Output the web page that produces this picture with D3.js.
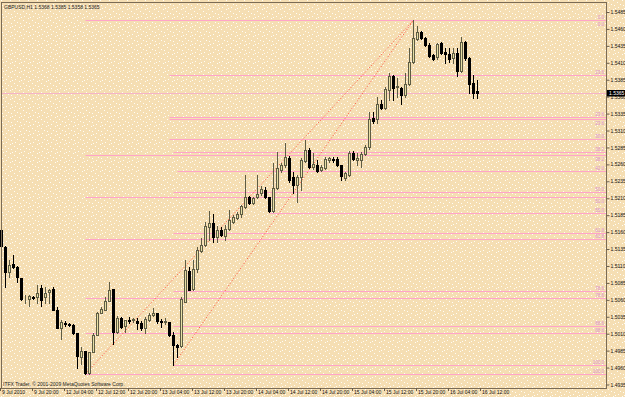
<!DOCTYPE html>
<html lang="en">
<head>
<meta charset="UTF-8">
<title>GBPUSD,H1</title>
<script src="https://d3js.org/d3.v7.min.js"></script>
<style>
  body { margin: 0; background: #F5DEB3; }
  svg { display: block; }
  text { font-family: "Liberation Sans", Arial, sans-serif; }
</style>
</head>
<body>
<div id="chart"></div>
<script>
// hourly candles, 9 Jul 2010 12:00 onward
const opens = [1.5163,1.5138,1.5101,1.5113,1.5108,1.5092,1.5063,1.5061,1.5064,1.5064,
  1.5078,1.5064,1.5072,1.5076,1.5045,1.5018,1.5026,1.5024,1.5023,1.5011,
  1.4976,1.4984,1.4952,1.4983,1.5008,1.5041,1.5045,1.5058,1.5076,1.5012,
  1.5033,1.5021,1.5030,1.5030,1.5029,1.5026,1.5018,1.5030,1.5037,1.5040,
  1.5029,1.5027,1.5027,1.5008,1.4993,1.4992,1.5057,1.5103,1.5076,1.5106,
  1.5132,1.5141,1.5167,1.5173,1.5153,1.5163,1.5154,1.5165,1.5175,1.5181,
  1.5187,1.5197,1.5212,1.5203,1.5212,1.5218,1.5222,1.5212,1.5191,1.5225,
  1.5251,1.5259,1.5269,1.5241,1.5229,1.5241,1.5265,1.5281,1.5256,1.5259,
  1.5251,1.5254,1.5266,1.5268,1.5268,1.5259,1.5240,1.5244,1.5277,1.5266,
  1.5266,1.5275,1.5286,1.5328,1.5327,1.5349,1.5343,1.5370,1.5390,1.5374,
  1.5373,1.5362,1.5378,1.5411,1.5445,1.5455,1.5447,1.5436,1.5421,1.5419,
  1.5439,1.5426,1.5423,1.5417,1.5424,1.5398,1.5441,1.5417,1.5380,1.5368];
const highs = [1.5178,1.5139,1.5119,1.5126,1.5110,1.5092,1.5067,1.5067,1.5066,1.5082,
  1.5082,1.5079,1.5076,1.5079,1.5049,1.5030,1.5029,1.5026,1.5024,1.5011,
  1.4990,1.4984,1.4983,1.5011,1.5042,1.5049,1.5064,1.5086,1.5076,1.5036,
  1.5035,1.5030,1.5035,1.5033,1.5033,1.5029,1.5035,1.5040,1.5048,1.5040,
  1.5032,1.5033,1.5027,1.5012,1.4995,1.5064,1.5119,1.5108,1.5119,1.5138,
  1.5151,1.5175,1.5191,1.5187,1.5169,1.5168,1.5170,1.5193,1.5185,1.5190,
  1.5200,1.5244,1.5213,1.5212,1.5244,1.5228,1.5227,1.5212,1.5262,1.5278,
  1.5262,1.5291,1.5272,1.5249,1.5244,1.5269,1.5296,1.5284,1.5277,1.5266,
  1.5259,1.5271,1.5271,1.5271,1.5271,1.5259,1.5249,1.5280,1.5280,1.5277,
  1.5278,1.5289,1.5337,1.5337,1.5359,1.5355,1.5374,1.5395,1.5392,1.5388,
  1.5374,1.5395,1.5432,1.5473,1.5465,1.5457,1.5448,1.5439,1.5423,1.5439,
  1.5440,1.5432,1.5432,1.5432,1.5432,1.5448,1.5442,1.5419,1.5392,1.5385];
const lows = [1.5137,1.5079,1.5094,1.5107,1.5086,1.5060,1.5055,1.5051,1.5061,1.5055,
  1.5051,1.5055,1.5055,1.5045,1.5018,1.5002,1.5021,1.5021,1.5010,1.4959,
  1.4965,1.4951,1.4951,1.4983,1.5008,1.5040,1.5045,1.5058,1.4995,1.5011,
  1.5018,1.5012,1.5026,1.5027,1.5017,1.5015,1.5011,1.5029,1.5036,1.5026,
  1.5020,1.5024,1.5006,1.4964,1.4976,1.4990,1.5057,1.5075,1.5075,1.5101,
  1.5131,1.5140,1.5148,1.5145,1.5145,1.5154,1.5148,1.5163,1.5173,1.5179,
  1.5182,1.5196,1.5201,1.5201,1.5210,1.5215,1.5210,1.5190,1.5190,1.5224,
  1.5249,1.5256,1.5234,1.5218,1.5204,1.5222,1.5263,1.5254,1.5253,1.5249,
  1.5250,1.5253,1.5263,1.5263,1.5257,1.5237,1.5237,1.5243,1.5266,1.5259,
  1.5256,1.5274,1.5283,1.5321,1.5321,1.5342,1.5342,1.5355,1.5355,1.5359,
  1.5349,1.5359,1.5377,1.5409,1.5444,1.5445,1.5435,1.5419,1.5414,1.5416,
  1.5423,1.5409,1.5411,1.5409,1.5390,1.5396,1.5414,1.5365,1.5358,1.5358];
const closes = [1.5140,1.5101,1.5111,1.5108,1.5094,1.5061,1.5063,1.5066,1.5063,1.5070,
  1.5060,1.5070,1.5075,1.5045,1.5018,1.5027,1.5024,1.5023,1.5011,1.4977,
  1.4984,1.4952,1.4983,1.5008,1.5041,1.5047,1.5058,1.5075,1.5012,1.5033,
  1.5020,1.5030,1.5029,1.5031,1.5026,1.5018,1.5032,1.5037,1.5040,1.5029,
  1.5027,1.5029,1.5008,1.4993,1.4990,1.5061,1.5104,1.5075,1.5106,1.5134,
  1.5141,1.5169,1.5173,1.5153,1.5163,1.5156,1.5165,1.5178,1.5182,1.5187,
  1.5198,1.5212,1.5203,1.5210,1.5216,1.5224,1.5212,1.5191,1.5225,1.5254,
  1.5259,1.5271,1.5237,1.5229,1.5241,1.5266,1.5281,1.5256,1.5260,1.5250,
  1.5256,1.5268,1.5269,1.5267,1.5259,1.5243,1.5247,1.5277,1.5268,1.5269,
  1.5275,1.5286,1.5327,1.5324,1.5349,1.5343,1.5371,1.5390,1.5373,1.5375,
  1.5362,1.5378,1.5411,1.5446,1.5456,1.5447,1.5436,1.5420,1.5416,1.5438,
  1.5424,1.5423,1.5416,1.5424,1.5398,1.5441,1.5417,1.5379,1.5366,1.5365];

const priceTicks = [1.5485,1.5460,1.5435,1.5410,1.5385,1.5360,1.5335,1.5310,1.5285,1.5260,
  1.5235,1.5210,1.5185,1.5160,1.5135,1.5110,1.5085,1.5060,1.5035,1.5010,1.4985,1.4960,1.4935];
const timeLabels = ["9 Jul 2010","9 Jul 20:00","12 Jul 04:00","12 Jul 12:00","12 Jul 20:00",
  "13 Jul 04:00","13 Jul 12:00","13 Jul 20:00","14 Jul 04:00","14 Jul 12:00","14 Jul 20:00",
  "15 Jul 04:00","15 Jul 12:00","15 Jul 20:00","16 Jul 04:00","16 Jul 12:00"];
const timeLabelBars = [0,8,16,24,32,40,48,56,64,72,80,88,96,104,112,120];

// two fibonacci retracements, both up to the 15 Jul high
const fibLevels = [0, 38.2, 50, 61.8, 78.6, 88.6, 100];
const fibStartBars = [21, 43];
const fibLows = [1.4951, 1.4964];
const fibHighBar = 103;
const fibHigh = 1.5473;

// other horizontal levels
const extraLevels = [1.5392, 1.5330, 1.5327, 1.5297, 1.5250, 1.5188];
const extraStartBars = [42, 42, 42, 42, 44, 67];
const extraLabels = ["23.6", "23.6", "23.6", "30.0", "42.0", "55.0"];

const header = "GBPUSD,H1  1.5368 1.5385 1.5358 1.5365";
const footer = "ITFX Trader, \u00A9 2001-2009 MetaQuotes Software Corp.";
const bid = 1.5365;

const W = 625, H = 397;
const plotL = 1.5, plotT = 2.5, plotR = 606.5, plotB = 388;

const svg = d3.select("#chart").append("svg")
  .attr("width", W).attr("height", H);

// dotted paper background
const pat = svg.append("defs").append("pattern")
  .attr("id", "dots").attr("width", 9).attr("height", 9)
  .attr("patternUnits", "userSpaceOnUse");
pat.append("rect").attr("width", 9).attr("height", 9).attr("fill", "#F5DEB3");
[[1,0],[5,2],[8,4],[2,5],[6,7],[3,8]].forEach(p => {
  pat.append("rect").attr("x", p[0]).attr("y", p[1]).attr("width", 1).attr("height", 1)
    .attr("fill", "#FFFDF5");
});
svg.append("rect").attr("width", W).attr("height", H).attr("fill", "url(#dots)");

const x = d3.scaleLinear().domain([0, 119]).range([1.5, 477.5]);
const y = d3.scaleLinear().domain([1.4935, 1.5485]).range([384.5, 12]);
const ry = v => Math.round(y(v)) + 0.5;

// horizontal level lines
const levels = [];
fibStartBars.forEach((s, k) => {
  fibLevels.forEach(l => {
    levels.push({ start: s, price: fibHigh - (fibHigh - fibLows[k]) * l / 100, label: l.toFixed(1) });
  });
});
extraLevels.forEach((p, k) => levels.push({ start: extraStartBars[k], price: p, label: extraLabels[k] }));

// stack labels of close lines: the lower one goes under its line
levels.sort((a, b) => b.price - a.price);
let lastY = -100;
levels.forEach(d => {
  const ly = ry(d.price);
  d.ty = (ly - lastY < 6) ? ly + 5 : ly - 1.5;
  lastY = ly;
});

svg.append("line")
  .attr("x1", plotL).attr("x2", plotR).attr("y1", ry(bid)).attr("y2", ry(bid))
  .attr("stroke", "#F4B4C6").attr("stroke-width", 1);

svg.selectAll(".lvl").data(levels).enter().append("line")
  .attr("class", "lvl")
  .attr("x1", d => x(d.start)).attr("x2", plotR)
  .attr("y1", d => ry(d.price)).attr("y2", d => ry(d.price))
  .attr("stroke", "#FFA4C8").attr("stroke-width", 1);

svg.selectAll(".lvlText").data(levels).enter().append("text")
  .attr("class", "lvlText")
  .attr("x", 604).attr("y", d => d.ty)
  .attr("text-anchor", "end")
  .attr("font-size", "4.5px")
  .attr("fill", "#DC90D0")
  .text(d => d.label);

// fib trend lines
svg.selectAll(".trend").data(fibStartBars).enter().append("line")
  .attr("class", "trend")
  .attr("x1", d => x(d)).attr("y1", (d, k) => y(fibLows[k]))
  .attr("x2", x(fibHighBar)).attr("y2", y(fibHigh))
  .attr("stroke", "#FF4A3A").attr("stroke-width", 1)
  .attr("stroke-dasharray", "1,2");

// candles
const bars = d3.range(opens.length);
svg.selectAll(".wick").data(bars).enter().append("line")
  .attr("class", "wick")
  .attr("x1", i => x(i)).attr("x2", i => x(i))
  .attr("y1", i => Math.round(y(highs[i]))).attr("y2", i => Math.round(y(lows[i])) + 1)
  .attr("stroke", i => closes[i] >= opens[i] ? "#5E5C44" : "#000")
  .attr("stroke-width", 1);

svg.selectAll(".body").data(bars).enter().append("rect")
  .attr("class", "body")
  .attr("x", i => x(i) - 1)
  .attr("y", i => ry(Math.max(opens[i], closes[i])))
  .attr("width", 2)
  .attr("height", i => Math.max(0, ry(Math.min(opens[i], closes[i])) - ry(Math.max(opens[i], closes[i]))))
  .attr("fill", i => closes[i] >= opens[i] ? "#E6DEA4" : "#000")
  .attr("stroke", i => closes[i] >= opens[i] ? "#5E5C44" : "#000")
  .attr("stroke-width", 1);

// frame
svg.append("rect")
  .attr("x", plotL).attr("y", plotT).attr("width", plotR - plotL).attr("height", plotB - plotT + 0.5)
  .attr("fill", "none").attr("stroke", "#7A6B55").attr("stroke-width", 1);

// price axis
const yAxis = d3.axisRight(y).tickValues(priceTicks).tickSize(3).tickPadding(1)
  .tickFormat(d3.format(".4f"));
const ya = svg.append("g").attr("transform", "translate(" + plotR + ",0)").call(yAxis);
ya.select(".domain").remove();
ya.selectAll("line").attr("stroke", "#6B5E4A");
ya.selectAll("text").attr("font-size", "5px").attr("fill", "#111")
  .attr("font-family", "Liberation Sans, Arial, sans-serif");

// time axis
const xt = d3.scaleLinear().domain([0, 119]).range([0, 476]);
const xAxis = d3.axisBottom(xt).tickValues(timeLabelBars).tickSize(3).tickPadding(1)
  .tickFormat((d, k) => timeLabels[k]);
const xa = svg.append("g").attr("transform", "translate(0," + plotB + ")").call(xAxis);
xa.select(".domain").remove();
xa.selectAll("line").attr("stroke", "#6B5E4A");
xa.selectAll("text").attr("font-size", "5px").attr("fill", "#111")
  .attr("text-anchor", "start").attr("dx", "1.5").attr("dy", "0.35em")
  .attr("font-family", "Liberation Sans, Arial, sans-serif");

// current bid box
svg.append("rect").attr("x", 607).attr("y", ry(bid) - 3.5).attr("width", 18).attr("height", 6.5)
  .attr("fill", "#000");
svg.append("text").attr("x", 609).attr("y", ry(bid) + 1.6)
  .attr("font-size", "5px").attr("fill", "#fff").text(d3.format(".4f")(bid));

// header and footer
svg.append("text").attr("x", 4).attr("y", 8.5).attr("font-size", "5px").attr("fill", "#222")
  .text(header);
svg.append("text").attr("x", 3).attr("y", 385.5).attr("font-size", "5px").attr("fill", "#222")
  .text(footer);
</script>
</body>
</html>
